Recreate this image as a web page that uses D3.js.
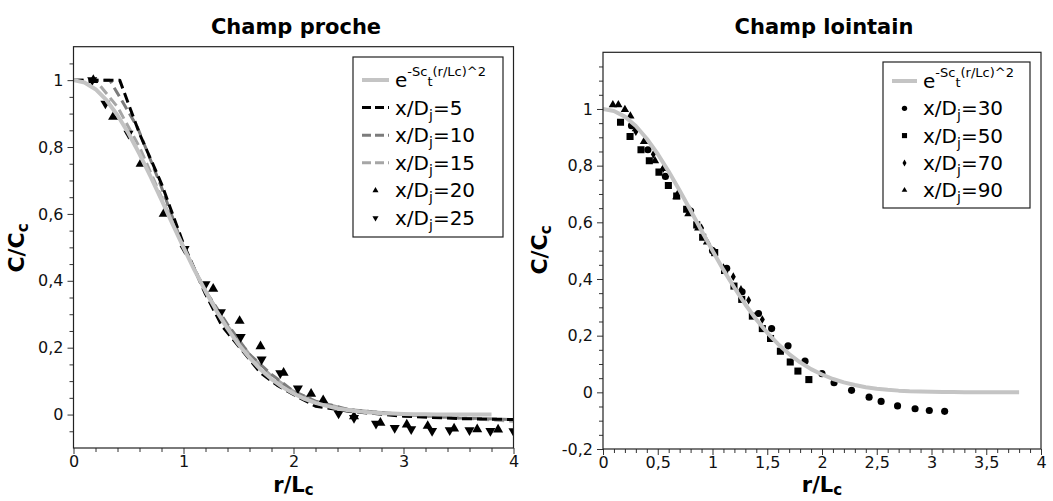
<!DOCTYPE html>
<html><head><meta charset="utf-8">
<script src="https://cdn.jsdelivr.net/npm/d3@7"></script>
<style>body{margin:0;background:#fff}svg{display:block;font-family:"DejaVu Sans",sans-serif}</style>
</head><body><svg id="c" width="1053" height="501"></svg>
<script>
// ---------- data ----------
const gaussR = [0,0.1,0.2,0.3,0.4,0.5,0.6,0.7,0.8,0.9,1.0,1.1,1.2,1.3,1.4,1.5,1.6,1.7,1.8,1.9,2.0,2.1,2.2,2.3,2.4,2.5,2.6,2.7,2.8,2.9,3.0,3.1,3.2,3.3,3.4,3.5,3.6,3.7,3.8];
const gaussC = [1,0.993,0.973,0.94,0.895,0.841,0.779,0.712,0.642,0.57,0.5,0.432,0.369,0.31,0.257,0.21,0.17,0.135,0.106,0.082,0.063,0.047,0.035,0.026,0.018,0.013,0.009,0.006,0.004,0.003,0.002,0.001,0.001,0,0,0,0,0,0];

// near field dashed profiles
const x5R = [0,0.2,0.42,0.6,0.8,1.0,1.2,1.35,1.5,1.7,1.85,2.0,2.2,2.5,3.0,3.5,4.0];
const x5C = [1,1,1,0.84,0.69,0.51,0.36,0.265,0.205,0.125,0.088,0.06,0.025,0.01,-0.005,-0.012,-0.015];
const x10R = [0,0.33,0.58,0.8,1.0,1.2,1.4,1.6,1.8,2.0,2.2,2.5,3.0,3.5,4.0];
const x10C = [1,1,0.86,0.68,0.5,0.37,0.27,0.18,0.12,0.07,0.04,0.015,0,-0.01,-0.015];
const x15R = [0,0.2,0.4,0.6,0.8,1.0,1.2,1.4,1.6,1.8,2.0,2.2,2.5,3.0,3.5,4.0];
const x15C = [1,1,0.92,0.8,0.65,0.5,0.37,0.265,0.18,0.115,0.07,0.04,0.015,0,-0.01,-0.02];
const x20R = [0.18,0.36,0.61,0.82,1.27,1.51,1.70,1.91,2.16,2.27,2.55,2.79,3.03,3.22,3.46,3.67,3.86];
const x20C = [1.0,0.89,0.75,0.6,0.376,0.28,0.204,0.125,0.062,0.043,-0.005,-0.025,-0.03,-0.034,-0.042,-0.044,-0.045];
const x25R = [0.17,0.29,0.5,1.01,1.20,1.34,1.52,1.71,1.88,2.04,2.41,2.55,2.75,2.92,3.07,3.26,3.42,3.60,3.79,4.0];
const x25C = [1.0,0.93,0.84,0.495,0.39,0.306,0.232,0.165,0.124,0.078,0.003,-0.01,-0.027,-0.04,-0.044,-0.049,-0.047,-0.047,-0.049,-0.05];

// far field scatter
const x30R = [0.26,0.41,0.57,0.8,1.0,1.13,1.27,1.42,1.54,1.69,1.845,2.0,2.11,2.27,2.43,2.54,2.69,2.85,2.98,3.12];
const x30C = [0.941,0.856,0.762,0.64,0.5,0.438,0.355,0.278,0.225,0.164,0.11,0.066,0.034,0.007,-0.017,-0.032,-0.048,-0.058,-0.064,-0.067];
const x50R = [0.16,0.247,0.347,0.423,0.511,0.597,0.673,0.764,0.856,0.91,1.02,1.11,1.196,1.267,1.364,1.455,1.53,1.62,1.71,1.78,1.88];
const x50C = [0.953,0.903,0.856,0.817,0.777,0.73,0.693,0.646,0.591,0.547,0.493,0.43,0.375,0.328,0.269,0.225,0.19,0.145,0.107,0.075,0.045];
const x70R = [0.3,0.46,0.55,0.68,0.8,0.9,1.0,1.1,1.19,1.26,1.33,1.455];
const x70C = [0.92,0.84,0.79,0.7,0.64,0.58,0.5,0.44,0.408,0.363,0.325,0.257];
const x90R = [0.09,0.14,0.2,0.25,0.3,0.374,0.475,0.55,0.67,0.78,0.87,0.95];
const x90C = [1.015,1.015,0.998,0.975,0.93,0.885,0.817,0.79,0.69,0.63,0.58,0.53];

const nearTicksY = [0,0.2,0.4,0.6,0.8,1];
const nearTicksX = [0,1,2,3,4];
const farTicksY = [-0.2,0,0.2,0.4,0.6,0.8,1];
const farTicksX = [0,0.5,1,1.5,2,2.5,3,3.5,4];

const svg = d3.select("#c");
const fmt = v => String(+v.toFixed(2)).replace('.', ',');
const range = (a,b,s) => { const o=[]; for(let v=a; v<=b+1e-9; v+=s) o.push(+v.toFixed(3)); return o; };

function sym(type, size){
  return d3.symbol().type(type).size(size)();
}
const triDown = (s) => { const h = Math.sqrt(s*4/Math.sqrt(3))/2; return `M${-h},${-h*0.58}L${h},${-h*0.58}L0,${h*1.15}Z`; };
const triUp = (s) => { const h = Math.sqrt(s*4/Math.sqrt(3))/2; return `M${-h},${h*0.58}L${h},${h*0.58}L0,${-h*1.15}Z`; };

function panel(o){
  const g = svg.append("g");
  const x = d3.scaleLinear().domain(o.xd).range(o.xr);
  const y = d3.scaleLinear().domain(o.yd).range(o.yr);
  // clip
  const cid = "clip"+o.id;
  svg.append("clipPath").attr("id",cid).append("rect")
    .attr("x",o.xr[0]).attr("y",o.yr[1]).attr("width",o.xr[1]-o.xr[0]).attr("height",o.yr[0]-o.yr[1]+4);
  const plot = g.append("g").attr("clip-path",`url(#${cid})`);

  // y axis ticks
  const ya = d3.axisLeft(y).tickValues(o.ty).tickSize(6).tickFormat(fmt);
  const yag = g.append("g").attr("transform",`translate(${o.xr[0]},0)`).call(ya);
  yag.select(".domain").remove();
  yag.selectAll("text").attr("font-size",16).attr("font-family","DejaVu Sans").attr("fill","#111").attr("dx",-1);
  yag.selectAll("line").attr("stroke","#333");
  const yam = d3.axisLeft(y).tickValues(o.tym.filter(v=>!o.ty.some(t=>Math.abs(t-v)<1e-6))).tickSize(4).tickFormat("");
  const yamg = g.append("g").attr("transform",`translate(${o.xr[0]},0)`).call(yam);
  yamg.select(".domain").remove(); yamg.selectAll("line").attr("stroke","#333");

  const xa = d3.axisBottom(x).tickValues(o.tx).tickSize(6).tickFormat(fmt);
  const xag = g.append("g").attr("transform",`translate(0,${o.yr[0]})`).call(xa);
  xag.select(".domain").remove();
  xag.selectAll("text").attr("font-size",16).attr("font-family","DejaVu Sans").attr("fill","#111").attr("dy","0.6em");
  xag.selectAll("line").attr("stroke","#333");
  const xam = d3.axisBottom(x).tickValues(o.txm.filter(v=>!o.tx.some(t=>Math.abs(t-v)<1e-6))).tickSize(4).tickFormat("");
  const xamg = g.append("g").attr("transform",`translate(0,${o.yr[0]})`).call(xam);
  xamg.select(".domain").remove(); xamg.selectAll("line").attr("stroke","#333");

  // lines
  const line = d3.line().x(d=>x(d[0])).y(d=>y(d[1]));
  o.lines.forEach(s=>{
    plot.append("path").datum(d3.zip(s.r,s.c)).attr("d",line).attr("fill","none")
      .attr("stroke",s.color).attr("stroke-width",s.w).attr("stroke-dasharray",s.dash||null)
      .attr("stroke-linejoin","round");
  });
  o.pts.forEach(s=>{
    plot.append("g").selectAll("path").data(d3.zip(s.r,s.c)).join("path")
      .attr("transform",d=>`translate(${x(d[0])},${y(d[1])})`).attr("d",s.path).attr("fill","#000");
  });
  // gaussian on top
  plot.append("path").datum(d3.zip(gaussR,gaussC)).attr("d",line).attr("fill","none")
    .attr("stroke","#c4c4c4").attr("stroke-width",4).attr("stroke-linejoin","round");

  // frame
  g.append("rect").attr("x",o.xr[0]).attr("y",o.yr[1]).attr("width",o.xr[1]-o.xr[0]).attr("height",o.yr[0]-o.yr[1])
    .attr("fill","none").attr("stroke","#222").attr("stroke-width",1.2);

  // titles
  const cx = (o.xr[0]+o.xr[1])/2;
  g.append("text").attr("x",o.tcx).attr("y",34).attr("text-anchor","middle").attr("font-weight","bold").attr("font-size",21).text(o.title);
  const xl = g.append("text").attr("x",cx).attr("y",492).attr("text-anchor","middle").attr("font-weight","bold").attr("font-size",21);
  xl.append("tspan").text("r/L"); xl.append("tspan").attr("font-size",15).attr("dy",3).text("c");
  const yl = g.append("text").attr("transform",`translate(${o.ylx},${o.yly}) rotate(-90)`).attr("text-anchor","middle").attr("font-weight","bold").attr("font-size",22);
  yl.append("tspan").text("C/C"); yl.append("tspan").attr("font-size",15).attr("dy",4).text("c");

  // legend
  const L = o.leg;
  g.append("rect").attr("x",L.x).attr("y",L.y).attr("width",L.w).attr("height",L.h).attr("fill","#fff").attr("stroke","#222").attr("stroke-width",1.2);
  L.items.forEach((it,i)=>{
    const yy = L.y0 + i*L.dy;
    if(it.line){
      g.append("line").attr("x1",L.lx0).attr("x2",L.lx1).attr("y1",yy).attr("y2",yy)
        .attr("stroke",it.color).attr("stroke-width",it.w).attr("stroke-dasharray",it.dash||null);
    } else {
      g.append("path").attr("transform",`translate(${(L.lx0+L.lx1)/2},${yy})`).attr("d",it.path).attr("fill","#000");
    }
    const t = g.append("text").attr("x",L.tx).attr("y",yy+7).attr("font-size",20);
    if(it.gauss){
      t.append("tspan").text("e");
      t.append("tspan").attr("font-size",13).attr("dy",-11).text("-Sc");
      t.append("tspan").attr("font-size",13).attr("dy",10).text("t");
      t.append("tspan").attr("font-size",13).attr("dy",-10).text("(r/Lc)^2");
    } else {
      t.append("tspan").text("x/D");
      t.append("tspan").attr("font-size",14).attr("dy",5).text("j");
      t.append("tspan").attr("dy",-5).text("=" + it.label);
    }
  });
}

panel({
  id:"a", title:"Champ proche", tcx:296, xd:[0,4], xr:[73.5,513.5], yd:[-0.1,1.1], yr:[448,46.7],
  ty:nearTicksY, tym:range(-0.1,1.1,0.05).filter(v=>v>-0.099&&v<1.099), tx:nearTicksX, txm:range(0,4,0.2),
  ylx:24, yly:248,
  lines:[
    {r:x15R,c:x15C,color:"#a6a6a6",w:3,dash:"10,5"},
    {r:x10R,c:x10C,color:"#7c7c7c",w:3,dash:"10,5"},
    {r:x5R,c:x5C,color:"#000",w:3,dash:"10,5"}
  ],
  pts:[
    {r:x20R,c:x20C,path:triUp(44)},
    {r:x25R,c:x25C,path:triDown(44)}
  ],
  leg:{x:353,y:57,w:150,h:180,y0:80,dy:27.6,lx0:362,lx1:389,tx:395,items:[
    {line:true,gauss:true,color:"#c4c4c4",w:4},
    {line:true,color:"#000",w:3,dash:"9,4",label:"5"},
    {line:true,color:"#7c7c7c",w:3,dash:"9,4",label:"10"},
    {line:true,color:"#a6a6a6",w:3,dash:"9,4",label:"15"},
    {path:triUp(16),label:"20"},
    {path:triDown(16),label:"25"}
  ]}
});

panel({
  id:"b", title:"Champ lointain", tcx:824, xd:[0,4], xr:[603,1041], yd:[-0.2,1.2], yr:[449,52.3],
  ty:farTicksY, tym:range(-0.2,1.2,0.05).filter(v=>v>-0.199&&v<1.199), tx:farTicksX, txm:range(0,4,0.1),
  ylx:547, yly:250,
  lines:[],
  pts:[
    {r:x30R,c:x30C,path:sym(d3.symbolCircle,40)},
    {r:x50R,c:x50C,path:sym(d3.symbolSquare,50)},
    {r:x70R,c:x70C,path:sym(d3.symbolDiamond,22)},
    {r:x90R,c:x90C,path:triUp(30)}
  ],
  leg:{x:883,y:62,w:147,h:146,y0:81,dy:27.3,lx0:892,lx1:917,tx:923,items:[
    {line:true,gauss:true,color:"#c4c4c4",w:4},
    {path:sym(d3.symbolCircle,22),label:"30"},
    {path:sym(d3.symbolSquare,26),label:"50"},
    {path:sym(d3.symbolDiamond,14),label:"70"},
    {path:triUp(14),label:"90"}
  ]}
});
</script></body></html>
